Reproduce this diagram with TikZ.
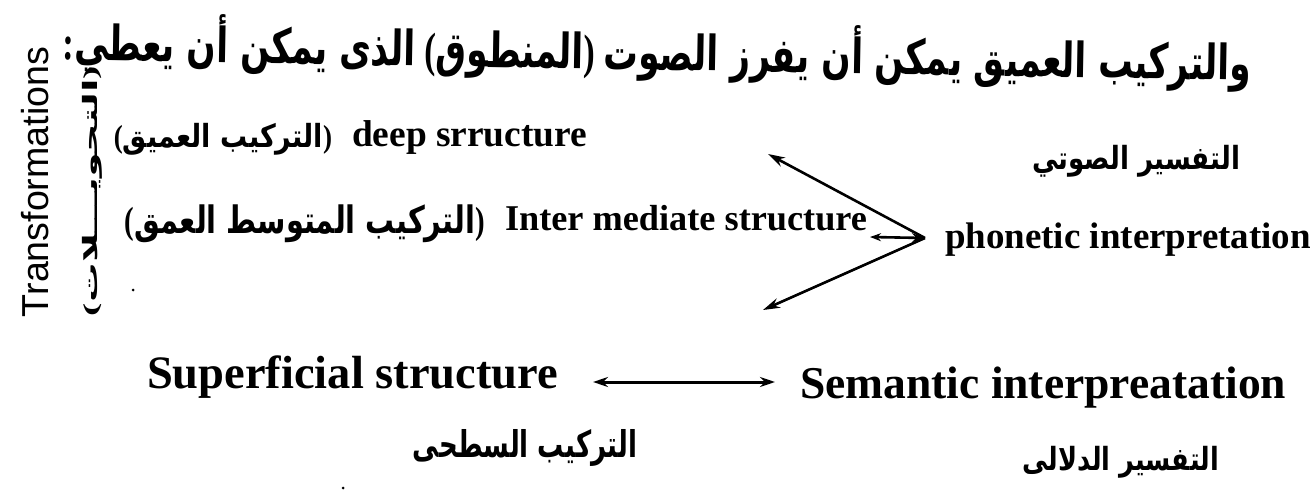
\documentclass[tikz,border=0pt]{standalone}
\usepackage{graphicx}
\usepackage{fontspec}
\setmainfont{Liberation Serif}
\newfontfamily\arabicfont[Script=Arabic,BoldFont={DejaVu Sans Bold}]{DejaVu Sans}
\newfontfamily\latsans{Liberation Sans}
\TeXXeTstate=1
\usetikzlibrary{arrows.meta}
\newcommand{\fitw}[2]{\resizebox{#1}{!}{#2}}
\newcommand{\fitwh}[3]{\resizebox*{#1}{#2}{#3}}
\newcommand{\artxt}[1]{{\arabicfont\bfseries\beginR #1\endR}}
\tikzset{
  txt/.style={inner sep=0pt, outer sep=0pt},
  longarr/.style={line width=2.6pt, -{Stealth[length=17pt,width=10pt]}},
  shortarr/.style={line width=2.6pt, {Stealth[length=11pt,width=8pt]}-{Stealth[length=13pt,width=9pt]}},
  bigarr/.style={line width=3pt, {Stealth[length=15pt,width=10pt]}-{Stealth[length=15pt,width=10pt]}},
}
\begin{document}
\begin{tikzpicture}[x=1pt,y=1pt]
\useasboundingbox (0,0) rectangle (1315,-500);
\fill[white] (0,0) rectangle (1315,-500);

% main sentence
\node[txt, rotate=-1.0] (main) at (657,-52)
  {\fitwh{1188pt}{60pt}{\bfseries :\artxt{الذى يمكن أن يعطي} (\artxt{المنطوق}) \artxt{والتركيب العميق يمكن أن يفرز الصوت}}};

% vertical labels
\node[txt, rotate=90] (trans) at (35,-182) {\fitw{270pt}{\latsans Transformations}};
\node[txt, rotate=90] (tahw) at (92,-191) {\fitwh{250pt}{20pt}{\bfseries (\artxt{التحويـــلات})}};

% row 2
\node[txt] (deepar) at (223,-139) {\fitwh{218pt}{32pt}{\bfseries (\artxt{التركيب العميق})}};
\node[txt, anchor=base west] (deep) at (352,-147) {\fitw{235pt}{\bfseries deep srructure}};

% row 3
\node[txt] (interar) at (305,-224) {\fitwh{360pt}{38pt}{\bfseries (\artxt{التركيب المتوسط العمق})}};
\node[txt, anchor=base west] (inter) at (505,-230) {\fitw{362pt}{\bfseries Inter mediate structure}};

% phonetic
\node[txt] (phonar) at (1136,-161) {\fitwh{208pt}{32pt}{\artxt{التفسير الصوتي}}};
\node[txt, anchor=base west] (phon) at (945,-248) {\fitw{366pt}{\bfseries phonetic interpretation}};

\coordinate (v) at (925,-238);
\coordinate (tu) at (768,-154);
\coordinate (tl) at (763,-310);
\draw[longarr] (v) -- (tu);
\draw[longarr] (v) -- (tl);
\draw[shortarr] ([shift={(3,-7)}]inter.base east) -- (v);

% bottom row
\node[txt, anchor=base west] (sup) at (147,-388) {\fitw{411pt}{\bfseries Superficial structure}};
\node[txt, anchor=base west] (sem) at (800,-398) {\fitw{486pt}{\bfseries Semantic interpreatation}};
\draw[bigarr] ([shift={(35,6)}]sup.base east) -- ([shift={(-25,16)}]sem.base west);

\node[txt] (supar) at (525,-448) {\fitwh{224pt}{37pt}{\artxt{التركيب السطحى}}};
\node[txt] (semar) at (1121,-462) {\fitwh{196pt}{32pt}{\artxt{التفسير الدلالى}}};

% specks
\fill (133,-290) circle (1.5);
\fill (343,-488) circle (1.5);
\end{tikzpicture}
\end{document}
